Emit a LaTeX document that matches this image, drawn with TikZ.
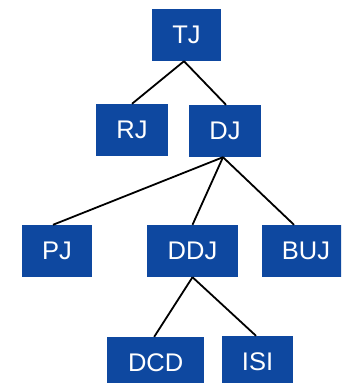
\documentclass[tikz,border=0pt]{standalone}
\usepackage{fontspec}
\setmainfont{Liberation Sans}
\definecolor{boxblue}{RGB}{14,72,160}
\begin{document}
\begin{tikzpicture}[x=1pt,y=-1pt,
  orgbox/.style={fill=boxblue,text=white,inner sep=0pt,minimum height=52pt,
    font=\fontsize{25.5}{25.5}\selectfont},
  link/.style={draw=black,line width=1.8pt}]
\useasboundingbox (0,0) rectangle (341,383);
\clip (0,0) rectangle (341,383);
\fill[white] (0,0) rectangle (341,383);

% boxes
\node[orgbox,minimum width=69pt] (tj)  at (186.5,35) {TJ};
\node[orgbox,minimum width=72pt] (rj)  at (132,130) {RJ};
\node[orgbox,minimum width=72pt] (dj)  at (225,131) {DJ};
\node[orgbox,minimum width=70pt] (pj)  at (57,251) {PJ};
\node[orgbox,minimum width=91pt] (ddj) at (192.5,251) {DDJ};
\node[orgbox,minimum width=88pt] (buj) at (306,251) {BUJ};
\node[orgbox,minimum width=97pt] (dcd) at (155.7,363) {DCD};
\node[orgbox,minimum width=71pt] (isi) at (257.5,362) {ISI};

% connectors
\draw[link] ([xshift=-2.5pt]tj.south) -- (rj.north);
\draw[link] ([xshift=-2.5pt]tj.south) -- ([xshift=1pt]dj.north);
\draw[link] ([xshift=-2pt]dj.south) -- ([xshift=-4pt]pj.north);
\draw[link] ([xshift=-2pt]dj.south) -- (ddj.north);
\draw[link] ([xshift=-2pt]dj.south) -- ([xshift=-12pt]buj.north);
\draw[link] (ddj.south) -- ([xshift=-1.5pt]dcd.north);
\draw[link] (ddj.south) -- ([xshift=-1.5pt]isi.north);
\end{tikzpicture}
\end{document}
